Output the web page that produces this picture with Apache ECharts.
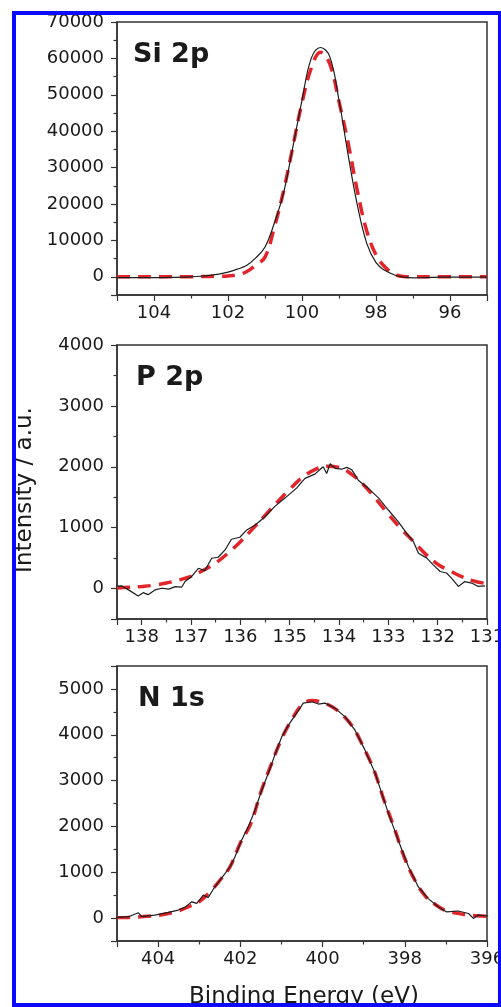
<!DOCTYPE html>
<html>
<head>
<meta charset="utf-8">
<script src="https://cdn.jsdelivr.net/npm/echarts@6/dist/echarts.min.js"></script>
<style>
html, body { margin: 0; padding: 0; background: #fff; }
#chart { width: 501px; height: 1007px; }
</style>
</head>
<body>
<div id="chart"></div>
<script>
// Si 2p: measured (black) and fit (red dashed) on one energy grid
var siEnergy = [105, 104.75, 104.5, 104.25, 104, 103.75, 103.5, 103.25, 103, 102.75,
  102.5, 102.25, 102, 101.75, 101.5, 101.25, 101, 100.75, 100.5, 100.25,
  100, 99.75, 99.5, 99.25, 99, 98.75, 98.5, 98.25, 98, 97.75,
  97.5, 97.25, 97, 96.75, 96.5, 96.25, 96, 95.75, 95.5, 95.25, 95]
var siMeasured = [-200, -200, -200, -200, -200, -200, -150, -100, 0, 150,
  400, 750, 1300, 2100, 3100, 5200, 8200, 14700, 23000, 35500,
  48500, 60000, 63000, 60500, 48500, 33300, 19500, 9200, 3900, 1700,
  500, -100, -300, -250, -150, -100, -100, -100, -100, -100, -100]
var siFit = [0, 0, 0, 0, 0, 0, 0, 0, 20, 50,
  100, 150, 250, 550, 1400, 3200, 5400, 13500, 23500, 35600,
  47800, 57300, 61700, 58500, 48100, 36600, 23400, 12600, 6000, 2600,
  700, 100, 0, 0, 0, 0, 0, 0, 0, 0, 0]

// P 2p: noisy measured trace
var pEnergy = [138.5, 138.4, 138.25, 138.07, 137.97, 137.87, 137.73, 137.59, 137.45, 137.32,
  137.19, 137.12, 136.99, 136.85, 136.72, 136.58, 136.45, 136.31, 136.18, 136.01,
  135.87, 135.7, 135.5, 135.3, 135.09, 134.86, 134.69, 134.49, 134.39, 134.32,
  134.25, 134.18, 134.08, 133.95, 133.84, 133.74, 133.61, 133.41, 133.2, 133.0,
  132.8, 132.63, 132.49, 132.39, 132.22, 132.09, 131.95, 131.82, 131.72, 131.58,
  131.45, 131.31, 131.18, 131.04]
var pMeasured = [40, 43, -30, -121, -67, -100, -23, 5, -10, 32,
  22, 115, 197, 333, 295, 498, 514, 634, 810, 843,
  963, 1045, 1180, 1350, 1490, 1650, 1810, 1880, 1950, 2000,
  1890, 2050, 1975, 1960, 1990, 1950, 1780, 1650, 1490, 1290,
  1100, 910, 770, 580, 500, 390, 280, 255, 170, 35,
  115, 90, 35, 45]
var pFitEnergy = [138.5, 138.25, 138, 137.75, 137.5, 137.25, 137, 136.75, 136.5, 136.25,
  136, 135.75, 135.5, 135.25, 135, 134.75, 134.5, 134.25, 134, 133.75,
  133.5, 133.25, 133, 132.75, 132.5, 132.25, 132, 131.75, 131.5, 131.25, 131]
var pFit = [10, 20, 35, 55, 90, 140, 200, 300, 420, 580,
  770, 980, 1200, 1420, 1630, 1820, 1950, 2010, 1990, 1880,
  1700, 1470, 1220, 990, 780, 570, 400, 290, 190, 120, 80]

// N 1s
var nEnergy = [405.05, 404.72, 404.48, 404.4, 404.08, 403.75, 403.51, 403.35, 403.18, 403.06,
  402.9, 402.78, 402.62, 402.37, 402.25, 402.13, 401.97, 401.81, 401.64, 401.48,
  401.32, 401.16, 400.99, 400.83, 400.63, 400.47, 400.26, 400.1, 399.94, 399.7,
  399.45, 399.21, 398.97, 398.72, 398.56, 398.4, 398.16, 397.91, 397.67, 397.43,
  397.18, 396.98, 396.7, 396.45, 396.33, 396.21, 395.97]
var nMeasured = [15, 30, 115, 30, 65, 125, 175, 233, 355, 320,
  500, 450, 683, 975, 1120, 1340, 1700, 1990, 2360, 2790,
  3160, 3560, 3960, 4210, 4470, 4690, 4720, 4670, 4690, 4580,
  4390, 4100, 3670, 3160, 2720, 2290, 1700, 1120, 680, 425,
  240, 135, 155, 100, -7, 65, 45]
var nFitEnergy = [405, 404.75, 404.5, 404.25, 404, 403.75, 403.5, 403.25, 403, 402.75,
  402.5, 402.25, 402, 401.75, 401.5, 401.25, 401, 400.75, 400.5, 400.25,
  400, 399.75, 399.5, 399.25, 399, 398.75, 398.5, 398.25, 398, 397.75,
  397.5, 397.25, 397, 396.75, 396.5, 396.25, 396]
var nFit = [10, 15, 25, 40, 60, 100, 160, 250, 360, 560,
  820, 1120, 1640, 2050, 2750, 3350, 3900, 4330, 4650, 4750,
  4700, 4600, 4420, 4150, 3720, 3230, 2560, 1950, 1300, 820,
  480, 290, 160, 110, 70, 50, 40]

var panelNames = ['Si 2p', 'P 2p', 'N 1s']
var xRanges = [[95, 105], [131, 138.5], [396, 405]]
var yRanges = [[-5000, 70000], [-500, 4000], [-500, 5500]]
// split counts chosen so the automatic intervals land on 2 / 1 / 2 eV and 10000 / 1000 / 1000
var xSplits = [5, 8, 5]
var ySplits = [8, 5, 6]

var frame = '#333'
var ink = '#1a1a1a'
var font = 'DejaVu Sans'
var gridTops = [22, 345, 666]
var gridHeights = [273, 274, 275]

function pairs (xs, ys) {
  return xs.map(function (x, i) { return [x, ys[i]] })
}
function plain (v) { return String(v) }

var grids = []
var xAxes = []
var yAxes = []
for (var i = 0; i < 3; i++) {
  grids.push({
    left: 117, top: gridTops[i], width: 370, height: gridHeights[i],
    show: true, borderColor: frame, borderWidth: 1.5,
    containLabel: false, outerBoundsMode: 'none'
  })
  xAxes.push({
    type: 'value', gridIndex: i, inverse: true,
    min: xRanges[i][0], max: xRanges[i][1], splitNumber: xSplits[i],
    axisLine: { show: true, onZero: false, lineStyle: { color: frame, width: 1.5 } },
    axisTick: { show: true, length: 6, lineStyle: { color: frame, width: 1.2 } },
    minorTick: { show: true, splitNumber: 2, length: 3.5, lineStyle: { color: frame, width: 1.2 } },
    splitLine: { show: false },
    minorSplitLine: { show: false },
    axisLabel: {
      color: ink, fontFamily: font, fontSize: 18, margin: 9, formatter: plain,
      showMinLabel: i > 0, showMaxLabel: false, hideOverlap: false
    }
  })
  yAxes.push({
    type: 'value', gridIndex: i,
    min: yRanges[i][0], max: yRanges[i][1], splitNumber: ySplits[i],
    axisLine: { show: true, onZero: false, lineStyle: { color: frame, width: 1.5 } },
    axisTick: { show: true, length: 6, lineStyle: { color: frame, width: 1.2 } },
    minorTick: { show: true, splitNumber: 2, length: 3.5, lineStyle: { color: frame, width: 1.2 } },
    splitLine: { show: false },
    minorSplitLine: { show: false },
    axisLabel: {
      color: ink, fontFamily: font, fontSize: 18, margin: 13, formatter: plain,
      showMinLabel: false, showMaxLabel: i < 2, hideOverlap: false
    }
  })
}

var fitStyle = { color: '#e3242b', width: 3.5, type: [13, 8] }
var rawStyle = { color: '#1e1e1e', width: 1.2 }

function fitSeries (idx, data) {
  return { type: 'line', xAxisIndex: idx, yAxisIndex: idx, data: data,
    showSymbol: false, symbol: 'none', smooth: 0.4, lineStyle: fitStyle, z: 2 }
}
function rawSeries (idx, data, smooth) {
  return { type: 'line', xAxisIndex: idx, yAxisIndex: idx, data: data,
    showSymbol: false, symbol: 'none', smooth: smooth, lineStyle: rawStyle, z: 3 }
}

var labelTops = [41, 364, 685]
var labelLefts = [133, 136, 138]
var graphics = panelNames.map(function (name, i) {
  return {
    type: 'text', left: labelLefts[i], top: labelTops[i], z: 10,
    style: { text: name, fontFamily: font, fontWeight: 'bold', fontSize: 27, fill: ink }
  }
})
graphics.push({
  type: 'text', x: 25, y: 490, rotation: Math.PI / 2, z: 10,
  style: { text: 'Intensity / a.u.', fontFamily: font, fontSize: 23, fill: ink,
    align: 'center', verticalAlign: 'middle' }
})
graphics.push({
  type: 'text', x: 304, y: 986, z: 10,
  style: { text: 'Binding Energy (eV)', fontFamily: font, fontSize: 23, fill: ink,
    align: 'center', verticalAlign: 'top' }
})
graphics.push({
  type: 'rect', z: 20, silent: true,
  shape: { x: 14, y: 13, width: 486, height: 992 },
  style: { fill: 'none', stroke: '#0a0aff', lineWidth: 4 }
})

var chart = echarts.init(document.getElementById('chart'), null, { renderer: 'canvas' })
chart.setOption({
  animation: false,
  backgroundColor: '#fff',
  grid: grids,
  xAxis: xAxes,
  yAxis: yAxes,
  series: [
    fitSeries(0, pairs(siEnergy, siFit)),
    rawSeries(0, pairs(siEnergy, siMeasured), 0.4),
    fitSeries(1, pairs(pFitEnergy, pFit)),
    rawSeries(1, pairs(pEnergy, pMeasured), false),
    fitSeries(2, pairs(nFitEnergy, nFit)),
    rawSeries(2, pairs(nEnergy, nMeasured), false)
  ],
  graphic: graphics
})
</script>
</body>
</html>
